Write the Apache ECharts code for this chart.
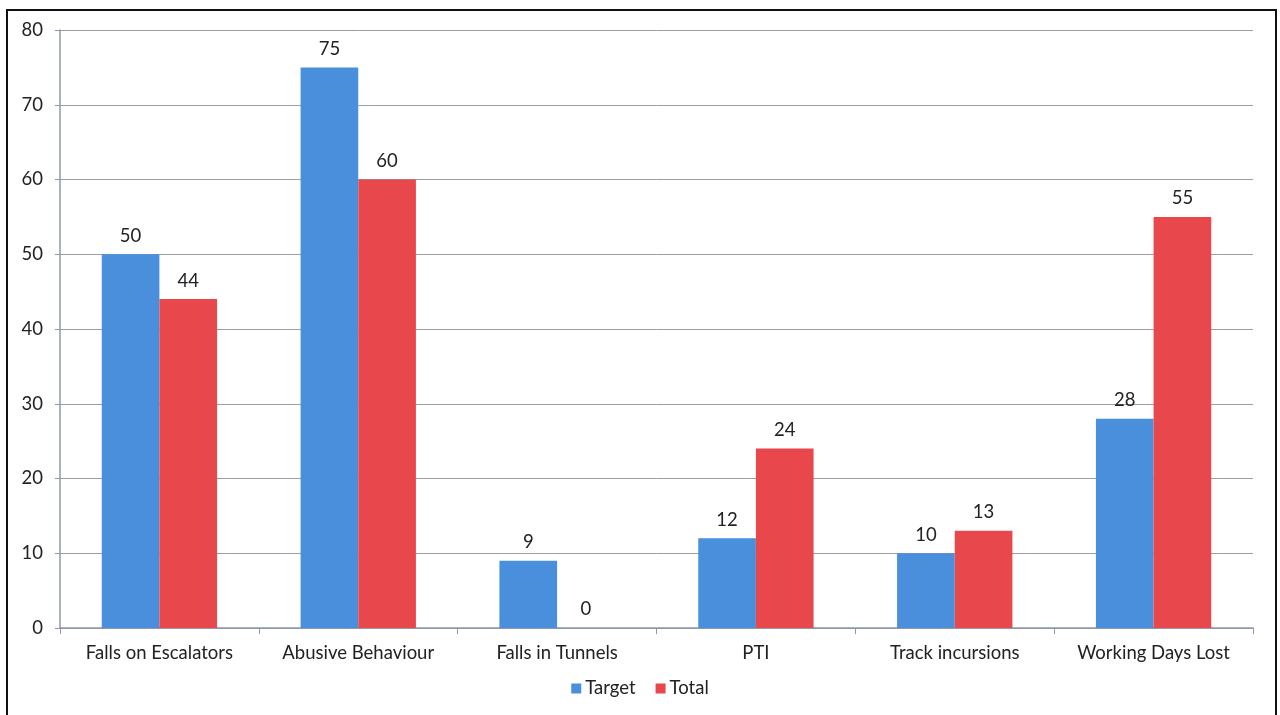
<!DOCTYPE html>
<html>
<head>
<meta charset="utf-8">
<script src="https://cdn.jsdelivr.net/npm/echarts@6/dist/echarts.min.js"></script>
<style>
  html, body { margin: 0; padding: 0; background: #fff; }
  #chart { width: 1280px; height: 715px; }
</style>
</head>
<body>
<div id="chart"></div>
<script>
const categories = ['Falls on Escalators', 'Abusive Behaviour', 'Falls in Tunnels', 'PTI', 'Track incursions', 'Working Days Lost'];
const targetValues = [50, 75, 9, 12, 10, 28];
const totalValues = [44, 60, 0, 24, 13, 55];
const yTicks = { min: 0, max: 80, interval: 10 };

const font = 'Lato, "Open Sans", sans-serif';
const fontSize = 18.5;
const chart = echarts.init(document.getElementById('chart'));

const labelStyle = {
  show: true, position: 'top', distance: 9,
  color: '#222', fontSize: fontSize, fontFamily: font
};

chart.setOption({
  animation: false,
  graphic: [{
    type: 'rect', silent: true,
    shape: { x: 7, y: 10, width: 1269, height: 720 },
    style: { fill: 'none', stroke: '#111', lineWidth: 2 }
  }],
  grid: { left: 60, right: 27, top: 30, bottom: 87, containLabel: false },
  legend: {
    bottom: 12, left: 'center',
    itemWidth: 10, itemHeight: 10, itemGap: 20,
    icon: 'rect',
    textStyle: { color: '#222', fontSize: fontSize, fontFamily: font, padding: [0, 0, 0, -1] }
  },
  xAxis: {
    type: 'category', data: categories,
    axisLine: { lineStyle: { color: '#8f97a8', width: 1.5 } },
    axisTick: { show: true, length: 6, lineStyle: { color: '#8f97a8' } },
    axisLabel: { color: '#222', fontSize: fontSize, fontFamily: font, margin: 16 }
  },
  yAxis: {
    type: 'value', min: yTicks.min, max: yTicks.max, interval: yTicks.interval,
    axisLine: { show: true, lineStyle: { color: '#8f97a8', width: 1.5 } },
    axisTick: { show: true, length: 5, lineStyle: { color: '#8f97a8' } },
    axisLabel: { color: '#222', fontSize: fontSize, fontFamily: font, margin: 17 },
    splitLine: { lineStyle: { color: '#9a9ea8', width: 1 } }
  },
  series: [
    {
      name: 'Target', type: 'bar', data: targetValues,
      barGap: '0%', barCategoryGap: '42%',
      itemStyle: { color: '#4a8fdb' },
      label: labelStyle
    },
    {
      name: 'Total', type: 'bar', data: totalValues,
      itemStyle: { color: '#e8474c' },
      label: labelStyle
    }
  ]
});
</script>
</body>
</html>
